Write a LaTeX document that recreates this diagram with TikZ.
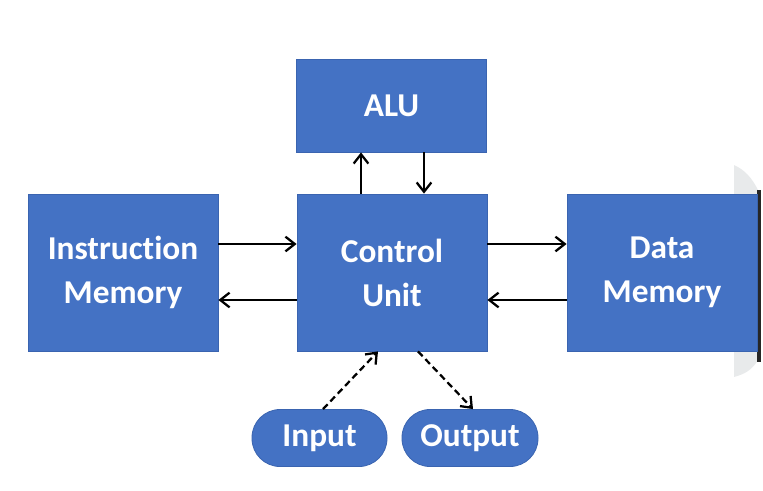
\documentclass[tikz,border=0pt]{standalone}
\usepackage{fontspec}
\setmainfont{Carlito}[Ligatures=NoCommon]
\usetikzlibrary{arrows.meta}
\definecolor{boxblue}{HTML}{4472C4}
\definecolor{boxedge}{HTML}{3A64B0}
\definecolor{shadegray}{HTML}{E8EAEB}
\tikzset{
  blk/.style={draw=boxedge, line width=0.6pt, fill=boxblue, text=white,
    font=\bfseries\fontsize{25}{30}\selectfont, align=center, inner sep=0pt},
  pill/.style={blk, rounded corners=21pt},
  link/.style={line width=1.7pt, -{Straight Barb[length=7pt,width=11pt,line width=1.7pt]}},
  dlink/.style={link, dash pattern=on 5pt off 3pt},
}
\begin{document}
\begin{tikzpicture}[x=0.75pt,y=-0.75pt]
\useasboundingbox (0,0) rectangle (763,490);
% gray shape at right edge
\fill[shadegray] (734,165) .. controls (745,170) and (752,178) .. (758,190)
  -- (758,360) .. controls (752,370) and (745,374) .. (734,377) -- cycle;
\fill[black!85] (757,190) rectangle (760.5,362);

\node[blk, minimum width=142.5pt, minimum height=69.75pt] (alu) at (391.5,105.5) {ALU};
\node[blk, minimum width=142.5pt, minimum height=117.75pt] (cu) at (392,272.5) {Control\\[3pt]Unit};
\node[blk, minimum width=142.5pt, minimum height=117.75pt] (im) at (123,272.5) {Instruction\\[3pt]Memory};
\node[blk, minimum width=142.5pt, minimum height=117.75pt] (dm) at (662,272.5) {Data\\[3pt]Memory};
\node[pill, minimum width=101.25pt, minimum height=42.75pt] (in) at (319.5,438) {Input};
\node[pill, minimum width=102pt, minimum height=42.75pt] (out) at (470,438) {Output};

% ALU <-> CU
\draw[link] (cu.north -| 361,0) -- (alu.south -| 361,0);
\draw[link] (alu.south -| 424,0) -- (cu.north -| 424,0);
% IM <-> CU
\draw[link] (im.east |- 0,244) -- (cu.west |- 0,244);
\draw[link] (cu.west |- 0,300) -- (im.east |- 0,300);
% CU <-> DM
\draw[link] (cu.east |- 0,244) -- (dm.west |- 0,244);
\draw[link] (dm.west |- 0,300) -- (cu.east |- 0,300);
% Input / Output
\draw[dlink] (in.north -| 323,0) -- (cu.south -| 378,0);
\draw[dlink] (cu.south -| 418,0) -- (out.north -| 473,0);
\end{tikzpicture}
\end{document}
